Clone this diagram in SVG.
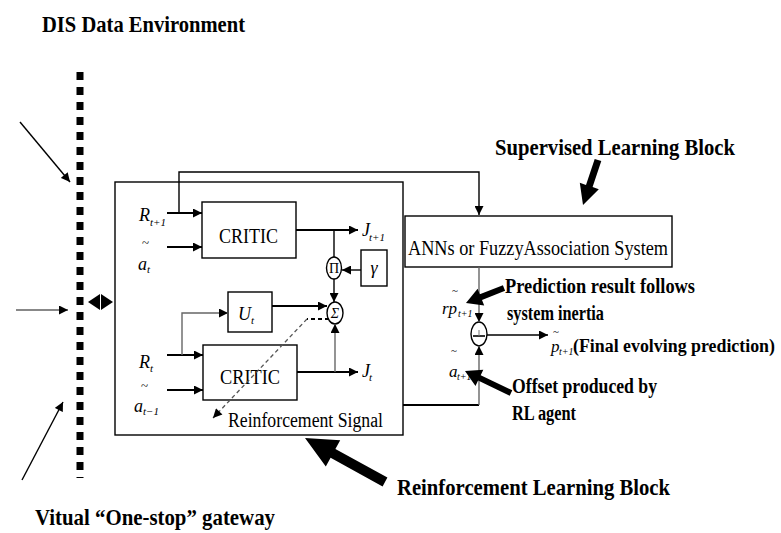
<svg xmlns="http://www.w3.org/2000/svg" width="781" height="533" viewBox="0 0 781 533">
  <style>
    .bx { fill: #fff; stroke: #000; stroke-width: 1.4; }
    .ln { fill: none; stroke: #000; stroke-width: 1.4; }
    .ln2 { fill: none; stroke: #000; stroke-width: 2; }
    .gr { fill: none; stroke: #666; stroke-width: 1.4; }
    .reg { font-family: "Liberation Serif", serif; fill: #000; }
    .bold { font-family: "Liberation Serif", serif; font-weight: bold; fill: #000; }
    .it { font-family: "Liberation Serif", serif; font-style: italic; fill: #000; }
    .thick { fill: #000; }
  </style>
  <defs>
    <marker id="ah" viewBox="0 0 10 10" refX="10" refY="5" markerWidth="10" markerHeight="9" markerUnits="userSpaceOnUse" orient="auto">
      <path d="M0,0 L10,5 L0,10 z" fill="#000"/>
    </marker>
  </defs>

  <rect width="781" height="533" fill="#fff"/>

  <!-- headings -->
  <text class="bold" x="42" y="32" font-size="24" textLength="203" lengthAdjust="spacingAndGlyphs">DIS Data Environment</text>
  <text class="bold" x="495" y="155" font-size="23" textLength="240" lengthAdjust="spacingAndGlyphs">Supervised Learning Block</text>
  <text class="bold" x="397" y="495" font-size="24" textLength="273" lengthAdjust="spacingAndGlyphs">Reinforcement Learning Block</text>
  <text class="bold" x="35" y="525" font-size="24" textLength="240" lengthAdjust="spacingAndGlyphs">Vitual “One-stop” gateway</text>

  <!-- gateway: dotted boundary -->
  <g id="gateway">
    <line x1="80" y1="72" x2="80" y2="478" stroke="#000" stroke-width="7" stroke-dasharray="8 7"/>
    <path d="M88,302 L100,294 L100,310 Z M113,302 L101,294 L101,310 Z" fill="#000"/>
  </g>

  <!-- RL block -->
  <g id="rl-block">
    <rect class="bx" x="115" y="182" width="288" height="253" fill="none"/>
    <text class="reg" x="228" y="427" font-size="20" textLength="155" lengthAdjust="spacingAndGlyphs">Reinforcement Signal</text>
  </g>

  <g id="critic-upper">
    <rect class="bx" x="202" y="202" width="94" height="56"/>
    <text class="reg" x="219" y="243" font-size="22" textLength="59" lengthAdjust="spacingAndGlyphs">CRITIC</text>
  </g>
  <g id="critic-lower">
    <rect class="bx" x="203" y="345" width="94" height="55"/>
    <text class="reg" x="220" y="384" font-size="22" textLength="60" lengthAdjust="spacingAndGlyphs">CRITIC</text>
  </g>
  <g id="utility">
    <rect class="bx" x="228" y="292" width="44" height="40"/>
    <text class="it" x="238" y="320" font-size="18">U</text>
    <text class="it" x="251" y="324" font-size="11">t</text>
  </g>
  <g id="gamma">
    <rect class="bx" x="361" y="250" width="26" height="36"/>
    <text class="it" x="374" y="274" font-size="18" text-anchor="middle">γ</text>
  </g>
  <g id="product">
    <ellipse class="bx" cx="334" cy="268" rx="7.5" ry="11"/>
    <text class="reg" x="334" y="273" font-size="14" text-anchor="middle">Π</text>
  </g>
  <g id="sum">
    <ellipse class="bx" cx="335" cy="313" rx="8" ry="11"/>
    <text class="it" x="335" y="318" font-size="14" text-anchor="middle">Σ</text>
  </g>

  <!-- supervised block -->
  <g id="ann">
    <rect class="bx" x="405" y="216" width="267" height="51"/>
    <text class="reg" x="408" y="255" font-size="21" textLength="260" lengthAdjust="spacingAndGlyphs">ANNs or FuzzyAssociation System</text>
  </g>
  <g id="combiner">
    <ellipse class="bx" cx="479" cy="334" rx="8" ry="12"/>
    <line x1="473" y1="336" x2="485" y2="336" stroke="#000" stroke-width="1.6"/>
    <line x1="479" y1="330" x2="479" y2="336" stroke="#777" stroke-width="1"/>
  </g>

  <!-- signal labels -->
  <g id="labels">
    <text class="it" x="139" y="221" font-size="18">R</text>
    <text class="it" x="150" y="226" font-size="11">t+1</text>
    <text class="reg" x="142" y="247" font-size="13">~</text>
    <text class="it" x="138" y="270" font-size="18">a</text>
    <text class="it" x="147" y="273" font-size="11">t</text>
    <text class="it" x="139" y="368" font-size="18">R</text>
    <text class="it" x="150" y="372" font-size="11">t</text>
    <text class="reg" x="141" y="390" font-size="13">~</text>
    <text class="it" x="134" y="412" font-size="18">a</text>
    <text class="it" x="143" y="415" font-size="11">t−1</text>
    <text class="it" x="362" y="236" font-size="18">J</text>
    <text class="it" x="369" y="241" font-size="11">t+1</text>
    <text class="it" x="362" y="377" font-size="18">J</text>
    <text class="it" x="369" y="381" font-size="11">t</text>

    <text class="reg" x="452" y="294" font-size="11">~</text>
    <text class="it" x="442" y="314" font-size="17">rp</text>
    <text class="it" x="458" y="317" font-size="10">t+1</text>
    <text class="reg" x="451" y="354" font-size="11">~</text>
    <text class="it" x="449" y="377" font-size="17">a</text>
    <text class="it" x="457" y="380" font-size="10">t+1</text>
    <text class="reg" x="553" y="335" font-size="11">~</text>
    <text class="it" x="551" y="352" font-size="17">p</text>
    <text class="it" x="559" y="355" font-size="10">t+1</text>

    <text class="bold" x="505" y="293" font-size="20" textLength="190" lengthAdjust="spacingAndGlyphs">Prediction result follows</text>
    <text class="bold" x="507" y="320" font-size="20" textLength="97" lengthAdjust="spacingAndGlyphs">system inertia</text>
    <text class="bold" x="573" y="352" font-size="18" textLength="202" lengthAdjust="spacingAndGlyphs">(Final evolving prediction)</text>
    <text class="bold" x="512" y="393" font-size="20" textLength="145" lengthAdjust="spacingAndGlyphs">Offset produced by</text>
    <text class="bold" x="512" y="420" font-size="20" textLength="64" lengthAdjust="spacingAndGlyphs">RL agent</text>
  </g>

  <!-- connectors -->
  <g id="connectors">
    <polyline class="ln" points="179,213 179,172 479,172 479,215" marker-end="url(#ah)"/>
    <line class="ln2" x1="167" y1="213" x2="202" y2="213" marker-end="url(#ah)"/>
    <line class="ln2" x1="167" y1="247" x2="202" y2="247" marker-end="url(#ah)"/>
    <line class="ln2" x1="296" y1="230" x2="358" y2="230" marker-end="url(#ah)"/>
    <line class="ln" x1="334" y1="230" x2="334" y2="257"/>
    <line class="ln" x1="361" y1="270" x2="342" y2="270" marker-end="url(#ah)"/>
    <line class="ln" x1="334" y1="279" x2="334" y2="302" marker-end="url(#ah)"/>
    <line class="ln2" x1="272" y1="306" x2="327" y2="306" marker-end="url(#ah)"/>
    <line class="ln2" x1="167" y1="355" x2="203" y2="355" marker-end="url(#ah)"/>
    <polyline class="gr" points="182,355 182,313 228,313" marker-end="url(#ah)"/>
    <line class="ln2" x1="167" y1="390" x2="203" y2="390" marker-end="url(#ah)"/>
    <line class="ln2" x1="297" y1="372" x2="358" y2="372" marker-end="url(#ah)"/>
    <line class="gr" x1="335" y1="372" x2="335" y2="324" marker-end="url(#ah)"/>
    <line x1="329" y1="319" x2="307" y2="319" stroke="#000" stroke-width="2" stroke-dasharray="4 3"/>
    <line x1="307" y1="319" x2="213" y2="418" stroke="#555" stroke-width="1.3" stroke-dasharray="4 3" marker-end="url(#ah)"/>

    <line class="gr" x1="479" y1="267" x2="479" y2="322" marker-end="url(#ah)"/>
    <polyline class="ln2" points="403,405 479,405"/>
    <line class="gr" x1="479" y1="405" x2="479" y2="346" marker-end="url(#ah)"/>
    <line class="ln" x1="487" y1="335" x2="548" y2="335" marker-end="url(#ah)"/>

    <line class="ln" x1="20" y1="122" x2="70" y2="182" marker-end="url(#ah)"/>
    <line x1="16" y1="310" x2="68" y2="310" stroke="#888" stroke-width="2" marker-end="url(#ah)"/>
    <line class="ln" x1="22" y1="480" x2="63" y2="402" marker-end="url(#ah)"/>

    <!-- bold pointer arrows -->
    <polygon class="thick" points="387.4,477.6 335.4,449.0 340.2,440.3 305,438 325.8,466.5 330.6,457.8 382.6,486.4"/>
    <polygon class="thick" points="601.3,161.1 592.6,187.1 598.8,189.2 583,205 579.8,182.8 586.0,184.9 594.7,158.9"/>
    <polygon class="thick" points="502.9,285.2 479.8,294.3 477.6,288.7 466,303 484.2,305.5 482.0,299.9 505.1,290.8"/>
    <polygon class="thick" points="512.3,390.3 480.7,375.2 483.3,369.8 465,371 475.5,386.0 478.1,380.6 509.7,395.7"/>
  </g>
</svg>
